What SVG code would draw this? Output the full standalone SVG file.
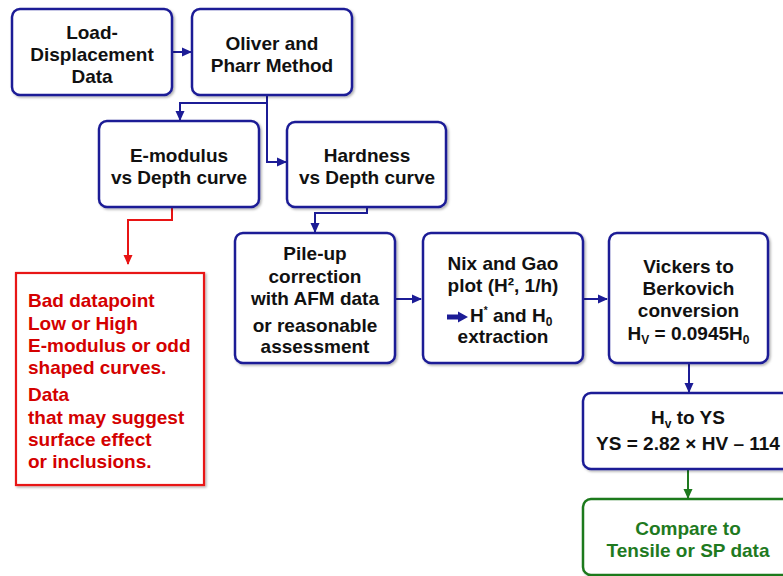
<svg xmlns="http://www.w3.org/2000/svg" width="783" height="576" viewBox="0 0 783 576">
<defs>
<filter id="sh" x="-10%" y="-10%" width="120%" height="120%">
<feDropShadow dx="1.5" dy="1.5" stdDeviation="1.2" flood-color="#000" flood-opacity="0.3"/>
</filter>
<marker id="ab" markerUnits="userSpaceOnUse" markerWidth="10" markerHeight="10" viewBox="0 0 10 10" refX="9" refY="5" orient="auto"><path d="M0,0.5 L10,5 L0,9.5 Z" fill="#1c1c96"/></marker>
<marker id="ar" markerUnits="userSpaceOnUse" markerWidth="10" markerHeight="10" viewBox="0 0 10 10" refX="9" refY="5" orient="auto"><path d="M0,0.5 L10,5 L0,9.5 Z" fill="#e81414"/></marker>
<marker id="ag" markerUnits="userSpaceOnUse" markerWidth="10" markerHeight="10" viewBox="0 0 10 10" refX="9" refY="5" orient="auto"><path d="M0,0.5 L10,5 L0,9.5 Z" fill="#1f7a1f"/></marker>
</defs>
<style>
.b{fill:#fff;stroke:#1c1c96;stroke-width:2.5;filter:url(#sh)}
.rb{fill:#fff;stroke:#e81414;stroke-width:2.2;filter:url(#sh)}
.gb{fill:#fff;stroke:#1f7a1f;stroke-width:2.5;filter:url(#sh)}
text{font-family:"Liberation Sans",Arial,sans-serif;font-weight:bold;fill:#111}
.t{font-size:19px;text-anchor:middle}
.r{font-size:19px;fill:#d40000}
.g{font-size:19px;text-anchor:middle;fill:#1f7a1f}
.cb{fill:none;stroke:#1c1c96;stroke-width:2;marker-end:url(#ab)}
.cr{fill:none;stroke:#e81414;stroke-width:2;marker-end:url(#ar)}
.cg{fill:none;stroke:#1f7a1f;stroke-width:2;marker-end:url(#ag)}
</style>
<g id="connectors">
<path class="cb" d="M172,52 H191"/>
<path class="cb" d="M267,95 V103 H180 V120"/>
<path class="cb" d="M267,103 V162 H286"/>
<path class="cr" d="M172,207 V220 H128 V264"/>
<path class="cb" d="M367,207 V213 H315 V232"/>
<path class="cb" d="M395,299 H421"/>
<path class="cb" d="M583,299 H607"/>
<path class="cb" d="M689,363 V392"/>
<path class="cg" d="M688,469 V498"/>
</g>
<g id="load">
<rect class="b" x="12" y="9" width="160" height="86" rx="8"/>
<text class="t" x="92" y="39">Load-</text>
<text class="t" x="92" y="61">Displacement</text>
<text class="t" x="92" y="83">Data</text>
</g>
<g id="oliver">
<rect class="b" x="192" y="9" width="160" height="86" rx="8"/>
<text class="t" x="272" y="50">Oliver and</text>
<text class="t" x="272" y="72">Pharr Method</text>
</g>
<g id="emod">
<rect class="b" x="99" y="121" width="160" height="86" rx="8"/>
<text class="t" x="179" y="162">E-modulus</text>
<text class="t" x="179" y="184">vs Depth curve</text>
</g>
<g id="hardness">
<rect class="b" x="287" y="122" width="159" height="85" rx="8"/>
<text class="t" x="367" y="162">Hardness</text>
<text class="t" x="367" y="184">vs Depth curve</text>
</g>
<g id="bad">
<rect class="rb" x="16" y="273" width="188" height="212"/>
<text class="r" x="28" y="307">Bad datapoint</text>
<text class="r" x="28" y="330">Low or High</text>
<text class="r" x="28" y="352">E-modulus or odd</text>
<text class="r" x="28" y="374">shaped curves.</text>
<text class="r" x="28" y="401">Data</text>
<text class="r" x="28" y="424">that may suggest</text>
<text class="r" x="28" y="446">surface effect</text>
<text class="r" x="28" y="468">or inclusions.</text>
</g>
<g id="pileup">
<rect class="b" x="235" y="233" width="160" height="130" rx="8"/>
<text class="t" x="315" y="260">Pile-up</text>
<text class="t" x="315" y="283">correction</text>
<text class="t" x="315" y="305">with AFM data</text>
<text class="t" x="315" y="332">or reasonable</text>
<text class="t" x="315" y="353">assessment</text>
</g>
<g id="nix">
<rect class="b" x="423" y="233" width="160" height="130" rx="8"/>
<text class="t" x="503" y="270">Nix and Gao</text>
<text class="t" x="503" y="292">plot (H², 1/h)</text>
<path d="M447,314.5 H458 V311.5 L468,317 L458,322.5 V319.5 H447 Z" fill="#1c1c96"/>
<text x="470" y="322" font-size="19">H<tspan font-size="10" dy="-8">*</tspan><tspan dy="8"> and H</tspan><tspan font-size="12" dy="4">0</tspan></text>
<text class="t" x="503" y="343">extraction</text>
</g>
<g id="vickers">
<rect class="b" x="609" y="233" width="159" height="130" rx="8"/>
<text class="t" x="688.5" y="273">Vickers to</text>
<text class="t" x="688.5" y="295">Berkovich</text>
<text class="t" x="688.5" y="317">conversion</text>
<text class="t" x="688.5" y="340">H<tspan font-size="12" dy="4">V</tspan><tspan dy="-4"> = 0.0945H</tspan><tspan font-size="12" dy="4">0</tspan></text>
</g>
<g id="hvys">
<rect class="b" x="583" y="393" width="212" height="76" rx="8"/>
<text class="t" x="688" y="424">H<tspan font-size="12" dy="4">v</tspan><tspan dy="-4"> to YS</tspan></text>
<text class="t" x="688" y="450">YS = 2.82 × HV – 114</text>
</g>
<g id="compare">
<rect class="gb" x="583" y="499" width="212" height="76" rx="8"/>
<text class="g" x="688" y="535">Compare to</text>
<text class="g" x="688" y="557">Tensile or SP data</text>
</g>
</svg>
